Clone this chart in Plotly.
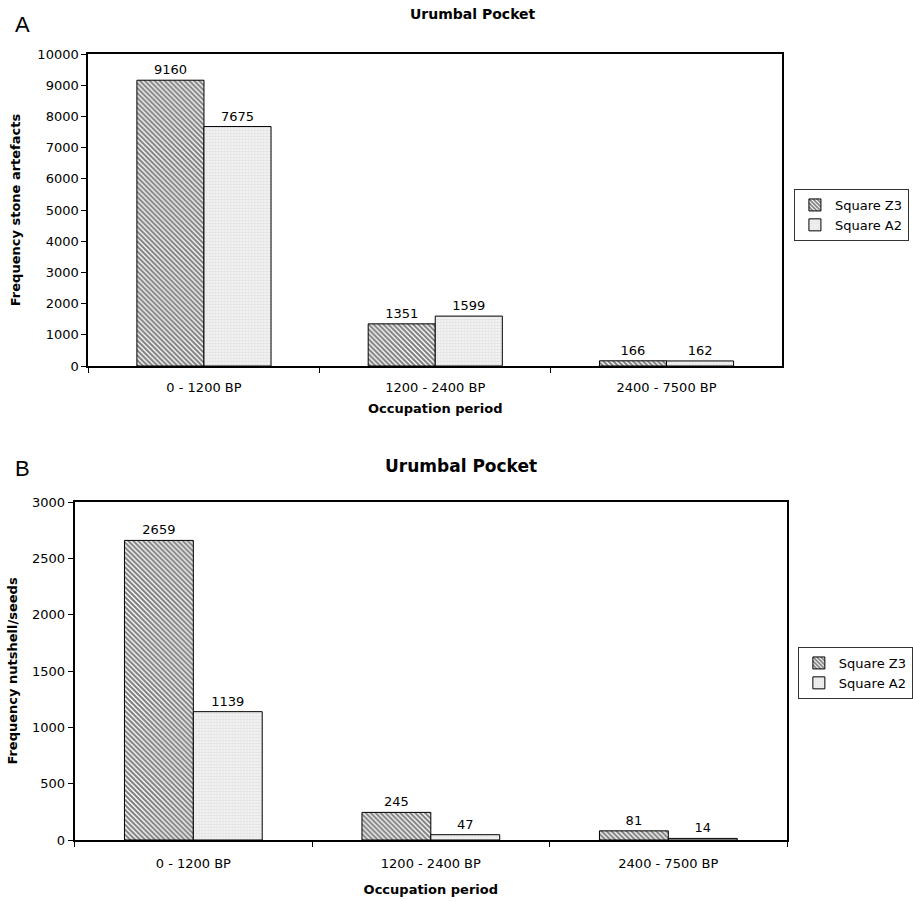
import plotly.graph_objects as go

categories = ["0 - 1200 BP", "1200 - 2400 BP", "2400 - 7500 BP"]
stone_z3 = [9160, 1351, 166]
stone_a2 = [7675, 1599, 162]
nut_z3 = [2659, 245, 81]
nut_a2 = [1139, 47, 14]
series_names = ["Square Z3", "Square A2"]
stone_ticks = list(range(0, 10001, 1000))
stone_ticktext = [str(v) for v in stone_ticks]
nut_ticks = list(range(0, 3001, 500))
nut_ticktext = [str(v) for v in nut_ticks]

W, H = 913, 901
def px_x(v):
    return v / W
def px_y(v):
    return 1 - v / H

FONT = "DejaVu Sans, Verdana, sans-serif"

z3_marker = dict(color="white", line=dict(color="black", width=1),
                 pattern=dict(shape="\\", fgcolor="#000000", bgcolor="white", size=3.5, solidity=0.6))
a2_marker = dict(color="white", line=dict(color="black", width=1),
                 pattern=dict(shape="+", fgcolor="#bdbdbd", bgcolor="#f2f2f2", size=3, solidity=0.25))

fig = go.Figure()
# Panel A
fig.add_trace(go.Bar(x=categories, y=stone_z3, name=series_names[0], marker=z3_marker,
                     text=stone_z3, textposition="outside", cliponaxis=False,
                     xaxis="x", yaxis="y", legend="legend"))
fig.add_trace(go.Bar(x=categories, y=stone_a2, name=series_names[1], marker=a2_marker,
                     text=stone_a2, textposition="outside", cliponaxis=False,
                     xaxis="x", yaxis="y", legend="legend"))
# Panel B
fig.add_trace(go.Bar(x=categories, y=nut_z3, name=series_names[0], marker=z3_marker,
                     text=nut_z3, textposition="outside", cliponaxis=False,
                     xaxis="x2", yaxis="y2", legend="legend2"))
fig.add_trace(go.Bar(x=categories, y=nut_a2, name=series_names[1], marker=a2_marker,
                     text=nut_a2, textposition="outside", cliponaxis=False,
                     xaxis="x2", yaxis="y2", legend="legend2"))

fig.update_traces(textfont=dict(family=FONT, size=13, color="black"), width=0.29)

axis_common = dict(showline=True, linecolor="black", linewidth=2, mirror=True,
                   showgrid=False, zeroline=False, automargin=False,
                   tickfont=dict(family=FONT, size=13, color="black"))
title_font = dict(family=FONT, size=13, color="black")

fig.update_layout(
    width=W, height=H,
    margin=dict(l=0, r=0, t=0, b=0),
    paper_bgcolor="white", plot_bgcolor="white",
    barmode="group", bargap=0.42, bargroupgap=0,
    showlegend=True,
    xaxis=dict(domain=[px_x(90), px_x(797)], anchor="y",
               ticks="outside", tickson="boundaries", ticklen=5, tickcolor="black",
               ticklabelstandoff=8,
               title=dict(text="<b>Occupation period</b>", font=title_font, standoff=10),
               **axis_common),
    yaxis=dict(domain=[px_y(366), px_y(54)], anchor="x", range=[0, 10000],
               tickvals=stone_ticks, ticktext=stone_ticktext,
               ticks="outside", ticklen=5, tickcolor="black",
               title=dict(text="<b>Frequency stone artefacts</b>", font=title_font, standoff=14),
               **axis_common),
    xaxis2=dict(domain=[px_x(76), px_x(802)], anchor="y2",
                ticks="outside", tickson="boundaries", ticklen=5, tickcolor="black",
                ticklabelstandoff=10,
                title=dict(text="<b>Occupation period</b>", font=title_font, standoff=15),
                **axis_common),
    yaxis2=dict(domain=[px_y(840), px_y(502)], anchor="x2", range=[0, 3000],
                tickvals=nut_ticks, ticktext=nut_ticktext,
                ticks="outside", ticklen=5, tickcolor="black",
                title=dict(text="<b>Frequency nutshell/seeds</b>", font=title_font, standoff=11),
                **axis_common),
    legend=dict(x=px_x(809), y=px_y(189), xanchor="left", yanchor="top",
                bordercolor="#333333", borderwidth=1, bgcolor="white",
                font=dict(family=FONT, size=13, color="black"), tracegroupgap=0,
                itemwidth=30),
    legend2=dict(x=px_x(813), y=px_y(647), xanchor="left", yanchor="top",
                 bordercolor="#333333", borderwidth=1, bgcolor="white",
                 font=dict(family=FONT, size=13, color="black"), tracegroupgap=0,
                 itemwidth=30),
    annotations=[
        dict(text="A", x=px_x(13), y=px_y(25), xref="paper", yref="paper", xanchor="left", yanchor="middle",
             showarrow=False, font=dict(family="Liberation Sans, Arial, sans-serif", size=22, color="black")),
        dict(text="<b>Urumbal Pocket</b>", x=px_x(482), y=px_y(14), xref="paper", yref="paper",
             xanchor="center", yanchor="middle", showarrow=False,
             font=dict(family=FONT, size=14, color="black")),
        dict(text="B", x=px_x(13), y=px_y(468), xref="paper", yref="paper", xanchor="left", yanchor="middle",
             showarrow=False, font=dict(family="Liberation Sans, Arial, sans-serif", size=22, color="black")),
        dict(text="<b>Urumbal Pocket</b>", x=px_x(470), y=px_y(466), xref="paper", yref="paper",
             xanchor="center", yanchor="middle", showarrow=False,
             font=dict(family=FONT, size=17, color="black")),
    ],
)

fig.write_html("out.html")
